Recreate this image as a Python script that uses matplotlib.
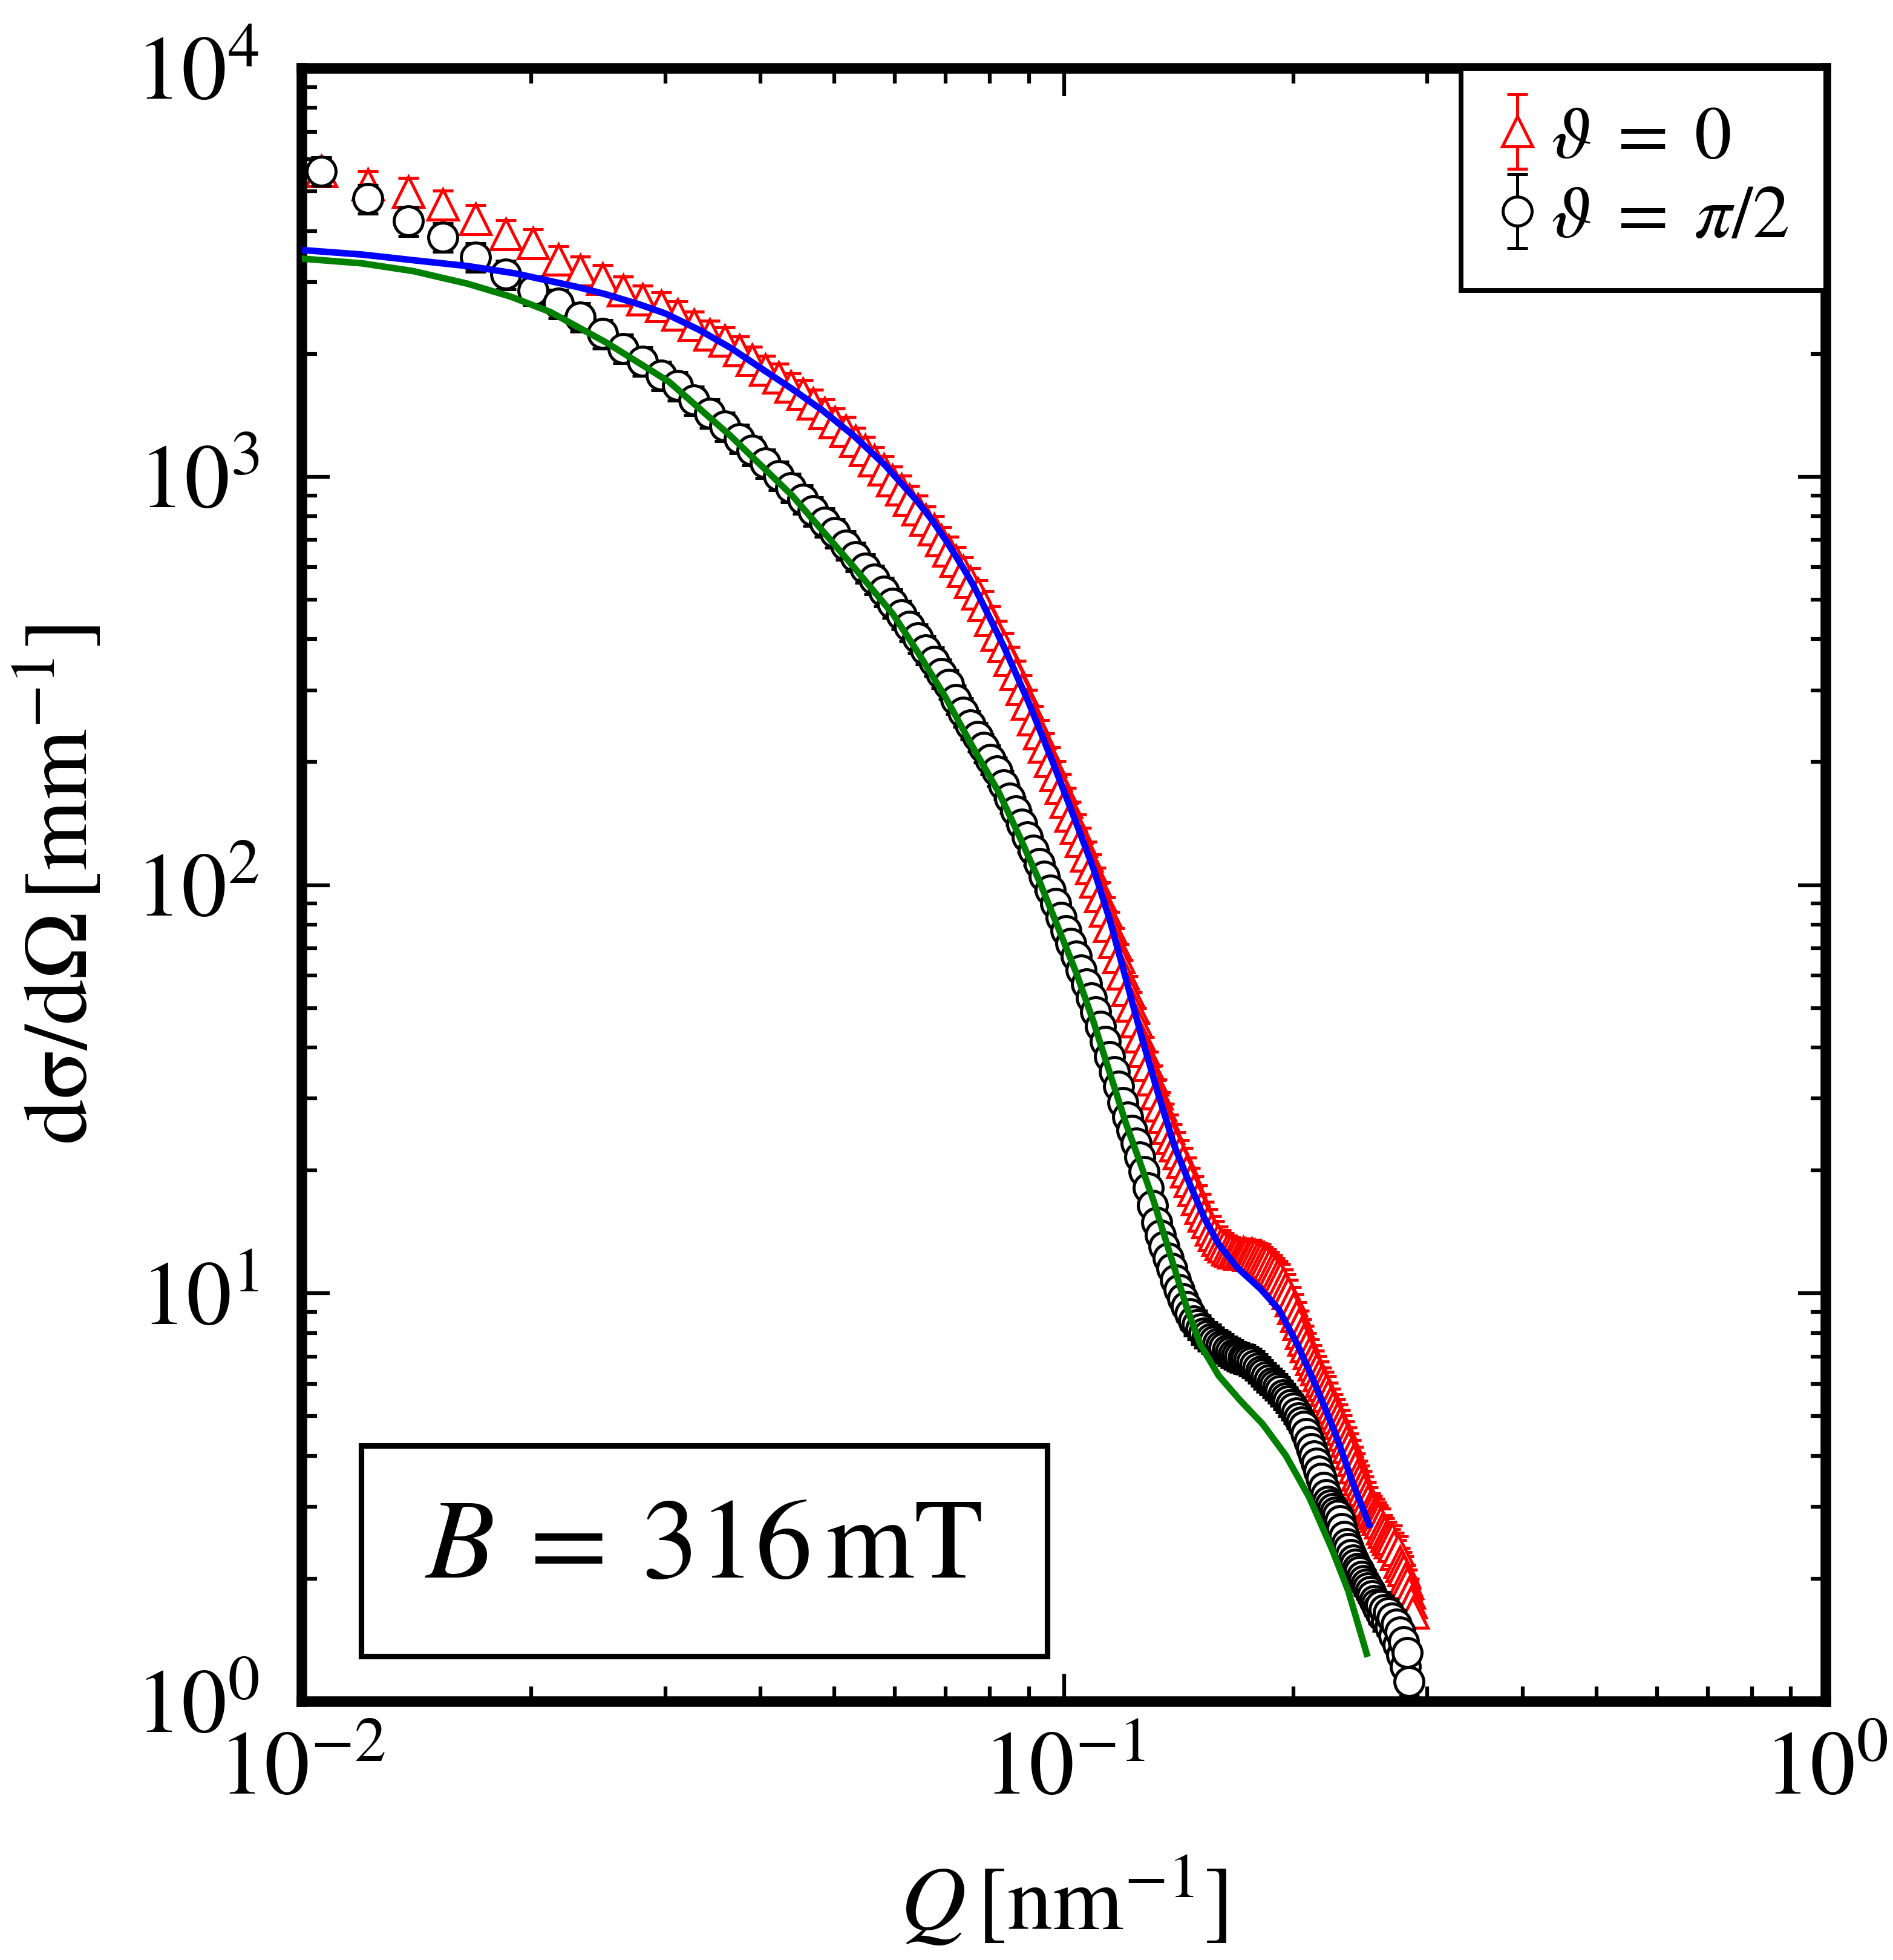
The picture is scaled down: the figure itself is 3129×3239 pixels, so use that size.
import matplotlib
matplotlib.use('Agg')
import matplotlib.pyplot as plt
from matplotlib.patches import Rectangle
from matplotlib.ticker import LogLocator, NullFormatter

plt.rcParams['font.family'] = ['STIXGeneral', 'DejaVu Sans']
plt.rcParams['mathtext.fontset'] = 'stix'

# ---------------- data ----------------
Q_grid = [
    0.0106, 0.0122, 0.0138, 0.0153, 0.0169, 0.0185, 0.0201, 0.0217, 0.0232, 0.0248,
    0.0264, 0.0280, 0.0296, 0.0311, 0.0327, 0.0343, 0.0359, 0.0375, 0.0390, 0.0406,
    0.0422, 0.0438, 0.0454, 0.0469, 0.0485, 0.0501, 0.0517, 0.0533, 0.0548, 0.0564,
    0.0580, 0.0596, 0.0612, 0.0627, 0.0643, 0.0659, 0.0675, 0.0691, 0.0706, 0.0722,
    0.0738, 0.0754, 0.0770, 0.0785, 0.0801, 0.0817, 0.0833, 0.0849, 0.0864, 0.0880,
    0.0896, 0.0912, 0.0928, 0.0943, 0.0959, 0.0975, 0.0991, 0.1007, 0.1022, 0.1038,
    0.1054, 0.1070, 0.1086, 0.1101, 0.1117, 0.1133, 0.1149, 0.1165, 0.1180, 0.1196,
    0.1212, 0.1228, 0.1244, 0.1259, 0.1275, 0.1291, 0.1307, 0.1323, 0.1338, 0.1354,
    0.1370, 0.1386, 0.1402, 0.1417, 0.1433, 0.1449, 0.1465, 0.1481, 0.1496, 0.1512,
    0.1528, 0.1544, 0.1560, 0.1575, 0.1591, 0.1607, 0.1623, 0.1639, 0.1654, 0.1670,
    0.1686, 0.1702, 0.1718, 0.1733, 0.1749, 0.1765, 0.1781, 0.1797, 0.1812, 0.1828,
    0.1844, 0.1860, 0.1876, 0.1891, 0.1907, 0.1923, 0.1939, 0.1955, 0.1970, 0.1986,
    0.2002, 0.2018, 0.2034, 0.2049, 0.2065, 0.2081, 0.2097, 0.2113, 0.2128, 0.2144,
    0.2160, 0.2176, 0.2192, 0.2207, 0.2223, 0.2239, 0.2255, 0.2271, 0.2286, 0.2302,
    0.2318, 0.2334, 0.2350, 0.2365, 0.2381, 0.2397, 0.2413, 0.2429, 0.2444, 0.2460,
    0.2476, 0.2492, 0.2508, 0.2523, 0.2539, 0.2555, 0.2571, 0.2587, 0.2602, 0.2618,
    0.2634, 0.2650, 0.2666, 0.2681, 0.2697, 0.2713, 0.2729, 0.2745, 0.2760, 0.2776,
    0.2792, 0.2808, 0.2824, 0.2839, 0.2855, 0.2871,
]

# theta = 0 (red triangles)
I_par = [
    5600, 5190, 4990, 4640, 4280, 3930, 3730, 3400, 3200, 3050,
    2860, 2720, 2620, 2490, 2350, 2230, 2150, 2040, 1930, 1830,
    1750, 1660, 1595, 1510, 1430, 1360, 1295, 1220, 1160, 1095,
    1040, 980, 930, 878, 831, 784, 742, 698, 659, 622,
    587, 552, 517, 485, 445, 410, 384, 355, 328, 302,
    278, 254, 235, 218, 201, 186, 173, 160, 148, 138,
    128, 118, 110, 102, 94, 86.4, 79.5, 72.5, 66.4, 60.6,
    55.4, 50.6, 46.3, 42.5, 39.2, 36.2, 33.4, 30.9, 28.8, 27.0,
    25.4, 24.0, 23.0, 22.0, 21.0, 19.9, 18.8, 17.9, 17.0, 16.2,
    15.5, 14.9, 14.3, 13.9, 13.5, 13.2, 13.0, 12.8, 12.7, 12.6,
    12.6, 12.5, 12.6, 12.5, 12.4, 12.5, 12.4, 12.3, 12.2, 12.0,
    11.9, 11.7, 11.5, 11.3, 11.1, 10.9, 10.6, 10.3, 10.0, 9.6,
    9.2, 8.8, 8.4, 8.0, 7.7, 7.4, 7.15, 6.9, 6.7, 6.5,
    6.3, 6.1, 5.95, 5.8, 5.6, 5.4, 5.25, 5.1, 4.95, 4.8,
    4.65, 4.5, 4.35, 4.2, 4.05, 3.9, 3.75, 3.6, 3.5, 3.4,
    3.3, 3.2, 3.1, 3.0, 2.95, 2.9, 2.85, 2.8, 2.75, 2.65,
    2.6, 2.55, 2.5, 2.45, 2.5, 2.4, 2.3, 2.35, 2.2, 2.15,
    2.1, 2.0, 1.95, 1.85, 1.75, 1.65,
]

# theta = pi/2 (black circles)
Q_perp = Q_grid[:174]
I_perp = [
    5600, 4800, 4230, 3860, 3450, 3130, 2860, 2660, 2460, 2240,
    2060, 1920, 1770, 1670, 1540, 1430, 1330, 1240, 1160, 1080,
    1006, 941, 882, 825, 774, 729, 680, 637, 597, 561,
    524, 490, 459, 430, 403, 377, 353, 330, 310, 285,
    265, 247, 231, 217, 203, 190, 176, 163, 152, 141,
    131, 121.5, 113, 105, 97, 90, 83.3, 77.3, 72, 67,
    62, 57.3, 52.9, 49, 45, 41.4, 38, 34.9, 32.1, 29.3,
    27.0, 25.1, 23.3, 21.6, 19.9, 18.1, 16.4, 14.9, 13.9, 13.0,
    12.2, 11.5, 10.8, 10.2, 9.7, 9.3, 8.9, 8.56, 8.38, 8.18,
    8.0, 7.87, 7.75, 7.64, 7.53, 7.44, 7.35, 7.26, 7.18, 7.10,
    7.04, 6.99, 6.94, 6.90, 6.85, 6.78, 6.67, 6.56, 6.45, 6.35,
    6.24, 6.15, 6.05, 5.96, 5.87, 5.77, 5.65, 5.55, 5.45, 5.34,
    5.23, 5.09, 4.96, 4.84, 4.72, 4.53, 4.34, 4.17, 4.0, 3.83,
    3.67, 3.52, 3.35, 3.21, 3.09, 3.03, 2.97, 2.91, 2.86, 2.77,
    2.65, 2.54, 2.44, 2.37, 2.29, 2.22, 2.17, 2.12, 2.08, 2.03,
    1.98, 1.94, 1.90, 1.86, 1.82, 1.77, 1.73, 1.69, 1.72, 1.62,
    1.68, 1.58, 1.65, 1.52, 1.60, 1.45, 1.55, 1.38, 1.48, 1.30,
    1.40, 1.22, 1.32, 1.12,
]
rel_err = 0.08  # relative error bar size

# model curves
Q_fit_par = [0.0100, 0.0120, 0.0140, 0.0165, 0.0190, 0.0204, 0.0229, 0.0250, 0.0276, 0.0300,
             0.0332, 0.0365, 0.0401, 0.0440, 0.0483, 0.0530, 0.0582, 0.0640, 0.0670, 0.0701,
             0.0740, 0.0760, 0.0782, 0.0835, 0.0899, 0.0967, 0.1032, 0.1093, 0.1148, 0.1206,
             0.1266, 0.1329, 0.1396, 0.1458, 0.1531, 0.1596, 0.1689, 0.1811, 0.1915, 0.2025,
             0.2141, 0.2265, 0.2395, 0.2516]
I_fit_par = [3590, 3500, 3390, 3280, 3150, 3060, 2920, 2800, 2650, 2510,
             2290, 2070, 1840, 1640, 1450, 1260, 1069, 877, 787, 696,
             592, 544, 490, 382, 280, 200, 146, 110, 82.5, 59,
             42.2, 30.9, 23.0, 18.8, 15.2, 13.2, 11.55, 10.26, 9.13, 7.50,
             5.94, 4.60, 3.43, 2.71]

Q_fit_perp = [0.0100, 0.0120, 0.0140, 0.0165, 0.0188, 0.0212, 0.0251, 0.0303, 0.0365, 0.0440,
              0.0530, 0.0597, 0.0643, 0.0698, 0.0757, 0.0821, 0.0877, 0.0929, 0.0983, 0.1040,
              0.1093, 0.1148, 0.1206, 0.1260, 0.1312, 0.1378, 0.1447, 0.1510, 0.1596, 0.1700,
              0.1824, 0.1955, 0.2098, 0.2249, 0.2361, 0.2497]
I_fit_perp = [3420, 3330, 3188, 2969, 2760, 2530, 2130, 1710, 1260, 899,
              601, 460, 372, 290, 220, 169, 130, 102, 78.6, 60.4,
              46.4, 34.8, 26.1, 20.8, 16.8, 12.5, 9.32, 7.50, 6.29, 5.49,
              4.78, 4.01, 3.17, 2.36, 1.87, 1.31]

labels = [r'$\vartheta\;=\;0$', r'$\vartheta\;=\;\pi/2$']
xlabel = r'$Q\,\left[\mathrm{nm}^{-1}\right]$'
ylabel = r'$\mathrm{d}\mathrm{\sigma}/\mathrm{d}\Omega\,\left[\mathrm{mm}^{-1}\right]$'
box_text = r'$B\:=\:316\,\mathrm{mT}$'

# ---------------- figure ----------------
fig = plt.figure(figsize=(3129 / 300, 3239 / 300), dpi=300)
ax = fig.add_axes([0.15948, 0.13183, 0.80505, 0.83328])
ax.set_xscale('log')
ax.set_yscale('log')
ax.set_xlim(1e-2, 1)
ax.set_ylim(1, 1e4)

e0 = ax.errorbar(Q_grid, I_par, yerr=[v * rel_err for v in I_par], fmt='^', ms=11.8,
                 mfc='white', mec='red', mew=1.2, ecolor='red', elinewidth=1.2,
                 capsize=4, capthick=1.1, label=labels[0], zorder=2)
e1 = ax.errorbar(Q_perp, I_perp, yerr=[v * rel_err for v in I_perp], fmt='o', ms=11.5,
                 mfc='white', mec='black', mew=1.2, ecolor='black', elinewidth=1.2,
                 capsize=4, capthick=1.1, label=labels[1], zorder=3)
ax.plot(Q_fit_par, I_fit_par, color='#0000ff', lw=2.6, zorder=4)
ax.plot(Q_fit_perp, I_fit_perp, color='#008000', lw=2.6, zorder=4)

for s in ax.spines.values():
    s.set_linewidth(4.2)

for axis in (ax.xaxis, ax.yaxis):
    axis.set_major_locator(LogLocator(base=10, numticks=10))
    axis.set_minor_locator(LogLocator(base=10, subs=range(2, 10), numticks=100))
    axis.set_minor_formatter(NullFormatter())

ax.tick_params(which='both', direction='in', top=True, right=True)
ax.tick_params(which='major', length=11, width=1.5, labelsize=36)
ax.tick_params(which='minor', length=6, width=1.5)
ax.tick_params(axis='x', which='major', pad=12)
ax.tick_params(axis='y', which='major', pad=17)

ax.set_xlabel(xlabel, fontsize=36)
ax.set_ylabel(ylabel, fontsize=36)
ax.xaxis.set_label_coords(0.5, -0.0945)
ax.yaxis.set_label_coords(-0.128, 0.5)

leg = ax.legend(handles=[e0, e1], loc='upper right', bbox_to_anchor=(1, 1),
                borderaxespad=0, fontsize=29.5, frameon=True, fancybox=False,
                edgecolor='black', framealpha=1, handlelength=0.5,
                handletextpad=0.2, borderpad=0.5, labelspacing=0.15)
leg.get_frame().set_linewidth(1.9)

ax.add_patch(Rectangle((0.0389, 0.0278), 0.4502, 0.1289, transform=ax.transAxes,
                       facecolor='white', edgecolor='black', lw=2.2, zorder=5))
ax.text(0.2635, 0.076, box_text, transform=ax.transAxes, fontsize=45,
        ha='center', va='baseline', zorder=6)

fig.savefig('out.png', dpi=300)
